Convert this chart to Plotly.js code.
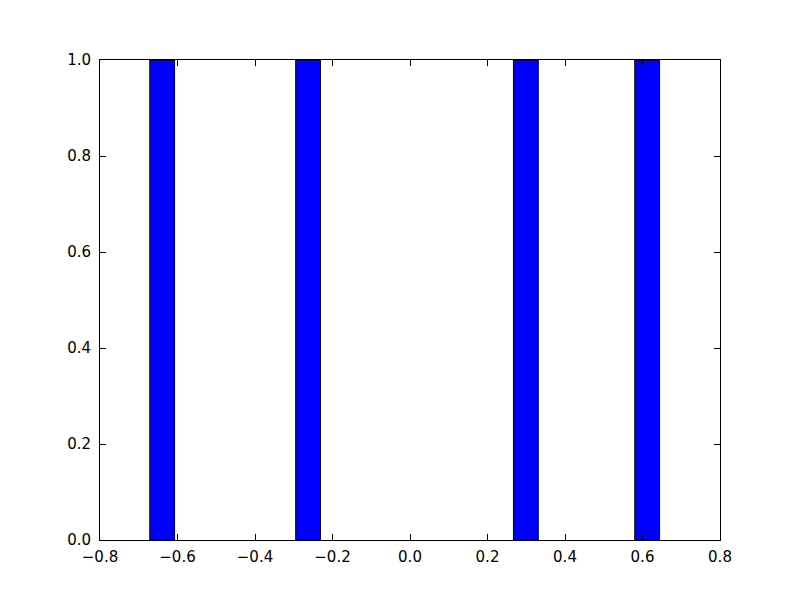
<!DOCTYPE html>
<html>
<head>
<meta charset="utf-8">
<script src="https://cdn.plot.ly/plotly-3.0.1.min.js"></script>
<style>html,body{margin:0;padding:0;background:#fff;}#chart{width:800px;height:600px;}</style>
</head>
<body>
<div id="chart"></div>
<script>
const barCenters = [-0.6395, -0.263, 0.299, 0.612];
const barHeights = [1, 1, 1, 1];
const barWidth = 0.064;
const xTickVals = [-0.8, -0.6, -0.4, -0.2, 0.0, 0.2, 0.4, 0.6, 0.8];
const xTickText = ["\u22120.8", "\u22120.6", "\u22120.4", "\u22120.2", "0.0", "0.2", "0.4", "0.6", "0.8"];
const yTickVals = [0.0, 0.2, 0.4, 0.6, 0.8, 1.0];
const yTickText = ["0.0", "0.2", "0.4", "0.6", "0.8", "1.0"];

const trace = {
  type: 'bar',
  x: barCenters,
  y: barHeights,
  width: barCenters.map(() => barWidth),
  marker: {color: '#0000ff', line: {color: '#000000', width: 1}},
  hoverinfo: 'none'
};

const axisCommon = {
  showgrid: false,
  zeroline: false,
  showline: true,
  linecolor: '#000',
  linewidth: 1,
  mirror: 'allticks',
  ticks: 'inside',
  ticklen: 6,
  tickwidth: 1,
  tickcolor: '#000',
  tickfont: {family: 'DejaVu Sans', size: 15, color: '#000'},
  tickmode: 'array'
};

const layout = {
  width: 800, height: 600,
  margin: {l: 100, r: 80, t: 60, b: 60},
  paper_bgcolor: '#fff',
  plot_bgcolor: '#fff',
  showlegend: false,
  bargap: 0,
  xaxis: Object.assign({}, axisCommon, {range: [-0.8, 0.8], tickvals: xTickVals, ticktext: xTickText, ticklabelstandoff: 3}),
  yaxis: Object.assign({}, axisCommon, {range: [0, 1], tickvals: yTickVals, ticktext: yTickText, ticklabelstandoff: 5})
};

Plotly.newPlot('chart', [trace], layout, {displayModeBar: false, staticPlot: true});
</script>
</body>
</html>
